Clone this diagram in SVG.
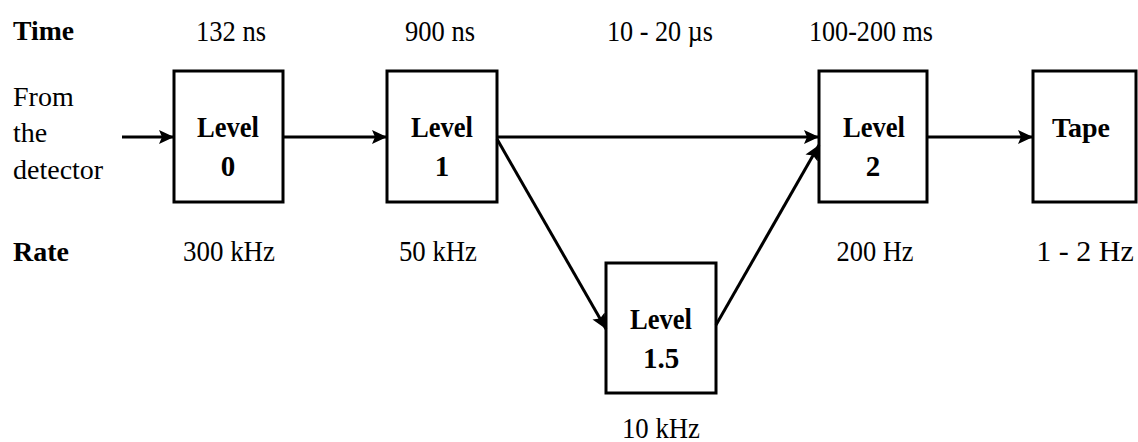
<svg xmlns="http://www.w3.org/2000/svg" width="1138" height="442" viewBox="0 0 1138 442">
<style>
  .box { fill: #fff; stroke: #000; stroke-width: 3; }
  .lbl { font-family: "Liberation Serif", "Times New Roman", serif; font-size: 28px; fill: #000; }
  .b { font-weight: bold; }
  .c { text-anchor: middle; }
  .lv { font-size: 29px; }
  .num { font-family: "Liberation Serif", "Times New Roman", serif; font-size: 30px; fill: #000; text-anchor: middle; }
  .edge { stroke: #000; stroke-width: 3; fill: none; marker-end: url(#arr); }
</style>
<defs>
  <marker id="arr" markerUnits="userSpaceOnUse" markerWidth="16" markerHeight="16" refX="15" refY="8" orient="auto">
    <path d="M0,1 L15,8 L0,15 L3,8 Z" fill="#000"/>
  </marker>
</defs>
<rect width="1138" height="442" fill="#fff"/>

<g id="row-labels">
  <text class="lbl b" x="13" y="40" font-size="31" textLength="61" lengthAdjust="spacingAndGlyphs">Time</text>
  <text class="lbl" x="13" y="106">From</text>
  <text class="lbl" x="13" y="142">the</text>
  <text class="lbl" x="13" y="179">detector</text>
  <text class="lbl b" x="13" y="261" font-size="29" textLength="56" lengthAdjust="spacingAndGlyphs">Rate</text>
</g>

<g id="times">
  <text class="num" x="231" y="41" textLength="70" lengthAdjust="spacingAndGlyphs">132 ns</text>
  <text class="num" x="440" y="41" textLength="70" lengthAdjust="spacingAndGlyphs">900 ns</text>
  <text class="num" x="660" y="41" textLength="106" lengthAdjust="spacingAndGlyphs">10 - 20 µs</text>
  <text class="num" x="871" y="41" textLength="124" lengthAdjust="spacingAndGlyphs">100-200 ms</text>
</g>

<g id="rates">
  <text class="num" x="229" y="261" textLength="92" lengthAdjust="spacingAndGlyphs">300 kHz</text>
  <text class="num" x="438" y="261" textLength="78" lengthAdjust="spacingAndGlyphs">50 kHz</text>
  <text class="num" x="875" y="261" textLength="77" lengthAdjust="spacingAndGlyphs">200 Hz</text>
  <text class="num" x="1085" y="261" font-size="27">1 - 2 Hz</text>
  <text class="num" x="661" y="438" textLength="78" lengthAdjust="spacingAndGlyphs">10 kHz</text>
</g>

<g id="level0">
  <rect class="box" x="174" y="71" width="109" height="131"/>
  <text class="lbl b c lv" x="228" y="137" textLength="62" lengthAdjust="spacingAndGlyphs">Level</text>
  <text class="lbl b c lv" x="228" y="176">0</text>
</g>
<g id="level1">
  <rect class="box" x="387" y="71" width="110" height="131"/>
  <text class="lbl b c lv" x="442" y="137" textLength="62" lengthAdjust="spacingAndGlyphs">Level</text>
  <text class="lbl b c lv" x="442" y="176">1</text>
</g>
<g id="level15">
  <rect class="box" x="606" y="263" width="110" height="130"/>
  <text class="lbl b c lv" x="661" y="329" textLength="62" lengthAdjust="spacingAndGlyphs">Level</text>
  <text class="lbl b c lv" x="661" y="368">1.5</text>
</g>
<g id="level2">
  <rect class="box" x="819" y="71" width="108" height="131"/>
  <text class="lbl b c lv" x="874" y="137" textLength="62" lengthAdjust="spacingAndGlyphs">Level</text>
  <text class="lbl b c lv" x="873" y="176">2</text>
</g>
<g id="tape">
  <rect class="box" x="1033" y="71" width="103" height="131"/>
  <text class="lbl b c" x="1081" y="137" font-size="31">Tape</text>
</g>

<g id="connectors">
  <line class="edge" x1="122" y1="137" x2="174" y2="137"/>
  <line class="edge" x1="283" y1="137" x2="387" y2="137"/>
  <line class="edge" x1="497" y1="137" x2="819" y2="137"/>
  <line class="edge" x1="497" y1="139" x2="606" y2="329"/>
  <line class="edge" x1="716" y1="325" x2="819" y2="145"/>
  <line class="edge" x1="927" y1="137" x2="1033" y2="137"/>
</g>
</svg>
